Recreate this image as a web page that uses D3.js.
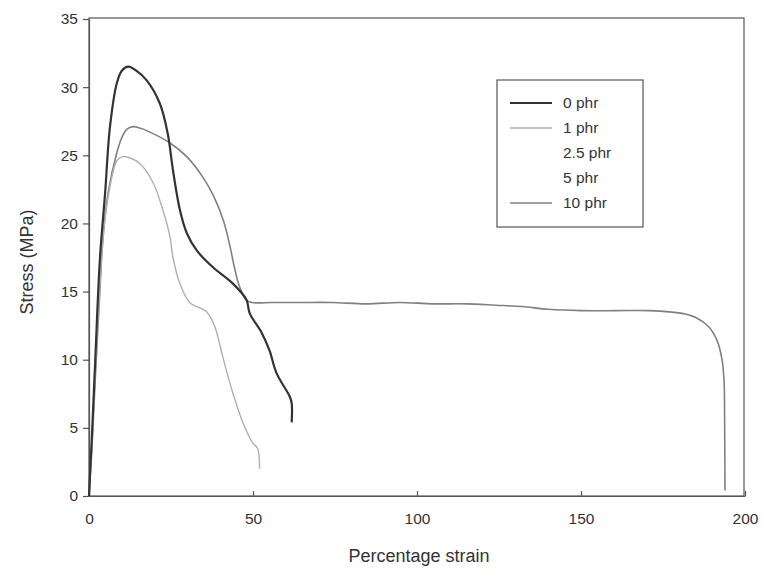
<!DOCTYPE html>
<html>
  <head>
    <title>Stress-strain curves</title>
    <script src="https://d3js.org/d3.v7.min.js"></script>
    <style>
      body { margin: 0; background: #fff; }
      text { font-family: "Liberation Sans", Arial, sans-serif; fill: #333; }
    </style>
  </head>
  <body>
    <div id="chart"></div>
    <script>
      // series names shown in the legend
      const seriesNames = ["0 phr", "1 phr", "2.5 phr", "5 phr", "10 phr"];

      // [strain %, stress MPa]
      const phr0 = [[0,0],[1,5],[2,10.5],[3.3,17.3],[4.9,22.2],[6.4,27.1],[8.5,30.3],[10,31.2],[11.9,31.5],
        [14.5,31.2],[17.6,30.5],[21.6,28.8],[24,26.6],[25.6,23.9],[27.7,21],[29.8,19.3],[32.9,18],
        [37.7,16.8],[43.8,15.6],[48,14.4],[49,13.4],[52.6,12],[55,10.7],[57.2,9],[61.2,7.3],[61.8,6.8],[61.8,5.4]];
      const phr1 = [[0,0],[1,4.5],[2,9.5],[3.2,15],[4.5,19.5],[6.4,22.7],[8.5,24.6],[10.3,24.9],[12.5,24.8],
        [15.5,24.4],[19.5,23],[22.5,21],[24.7,19],[25.6,17.5],[27.7,15.6],[30.7,14.2],[35.9,13.5],[38.4,12.4],
        [40.8,10.2],[43.8,7.6],[46.9,5.4],[49.9,3.9],[51.4,3.5],[52,2]];
      const phr25 = [];
      const phr5 = [];
      const phr10 = [[0,0],[1,4],[2,9],[3.2,14.5],[4.3,19],[5.8,22.2],[8.5,25.2],[10,26.3],[11.5,26.9],[13.4,27.1],
        [15.5,27],[18.6,26.7],[24.7,25.9],[29.8,24.9],[34.7,23.4],[38,22],[41,20.2],[43,18.3],[44.5,16.6],
        [46,15.3],[48.4,14.3],[56,14.2],[64,14.2],[74,14.2],[84.6,14.1],[94.7,14.2],[104.7,14.1],[115,14.1],
        [124,14],[132,13.9],[140,13.7],[150,13.6],[160.7,13.6],[170.8,13.6],[180.8,13.4],[185,13.1],[189,12.4],
        [191.5,11.4],[193,10],[193.6,8.5],[193.8,5],[193.9,0.4]];

      const seriesData = [phr0, phr1, phr25, phr5, phr10];
      const seriesColors = ["#333", "#b0b0b0", "#fff", "#fff", "#808080"];
      const seriesWidths = [2.2, 1.4, 1.4, 1.4, 1.6];

      const xTicks = [0, 50, 100, 150, 200];
      const yTicks = [0, 5, 10, 15, 20, 25, 30, 35];

      const W = 763, H = 576;
      const mLeft = 89, mRight = 745, mTop = 19, mBottom = 496;

      const svg = d3.select("#chart").append("svg")
        .attr("width", W).attr("height", H);

      const x = d3.scaleLinear().domain([0, 200]).range([mLeft, mRight]);
      const y = d3.scaleLinear().domain([0, 35]).range([mBottom, mTop]);

      // frame
      svg.append("rect")
        .attr("x", mLeft).attr("y", mTop - 1)
        .attr("width", mRight - 1 - mLeft).attr("height", mBottom - mTop + 1)
        .attr("fill", "none").attr("stroke", "#555").attr("stroke-width", 1.2);

      const xAxis = svg.append("g")
        .attr("transform", "translate(0," + mBottom + ")")
        .call(d3.axisBottom(x).tickValues(xTicks).tickSizeInner(-5).tickSizeOuter(0).tickPadding(17));
      xAxis.selectAll("text").style("font-size", "15.5px");

      const yAxis = svg.append("g")
        .attr("transform", "translate(" + mLeft + ",0)")
        .call(d3.axisLeft(y).tickValues(yTicks).tickSizeInner(6).tickSizeOuter(0).tickPadding(5));
      yAxis.selectAll("text").style("font-size", "15.5px");

      svg.selectAll(".domain, .tick line").attr("stroke", "#555").attr("stroke-width", 1.2);
      svg.selectAll(".tick text").attr("fill", "#333");

      svg.append("text")
        .attr("x", 419).attr("y", 562)
        .attr("text-anchor", "middle")
        .style("font-size", "18px")
        .text("Percentage strain");

      svg.append("text")
        .attr("transform", "translate(33,262) rotate(-90)")
        .attr("text-anchor", "middle")
        .style("font-size", "18px")
        .text("Stress (MPa)");

      const lineX = d3.line().x(d => x(d[0])).y(d => y(d[1])).curve(d3.curveCatmullRom.alpha(0.5));

      // draw lighter curves first, dark on top
      [4, 1, 2, 3, 0].forEach(i => {
        if (!seriesData[i].length) return;
        svg.append("path")
          .datum(seriesData[i])
          .attr("fill", "none")
          .attr("stroke", seriesColors[i])
          .attr("stroke-width", seriesWidths[i])
          .attr("stroke-linejoin", "round")
          .attr("d", lineX);
      });

      // legend
      const lg = svg.append("g");
      lg.append("rect")
        .attr("x", 497).attr("y", 80).attr("width", 146).attr("height", 147)
        .attr("fill", "#fff").attr("stroke", "#555").attr("stroke-width", 1.2);
      seriesNames.forEach((name, i) => {
        const yy = 103 + i * 25;
        lg.append("line")
          .attr("x1", 510).attr("x2", 552).attr("y1", yy).attr("y2", yy)
          .attr("stroke", seriesColors[i]).attr("stroke-width", seriesWidths[i]);
        lg.append("text")
          .attr("x", 563).attr("y", yy + 5)
          .style("font-size", "15.5px")
          .text(name);
      });
    </script>
  </body>
</html>
